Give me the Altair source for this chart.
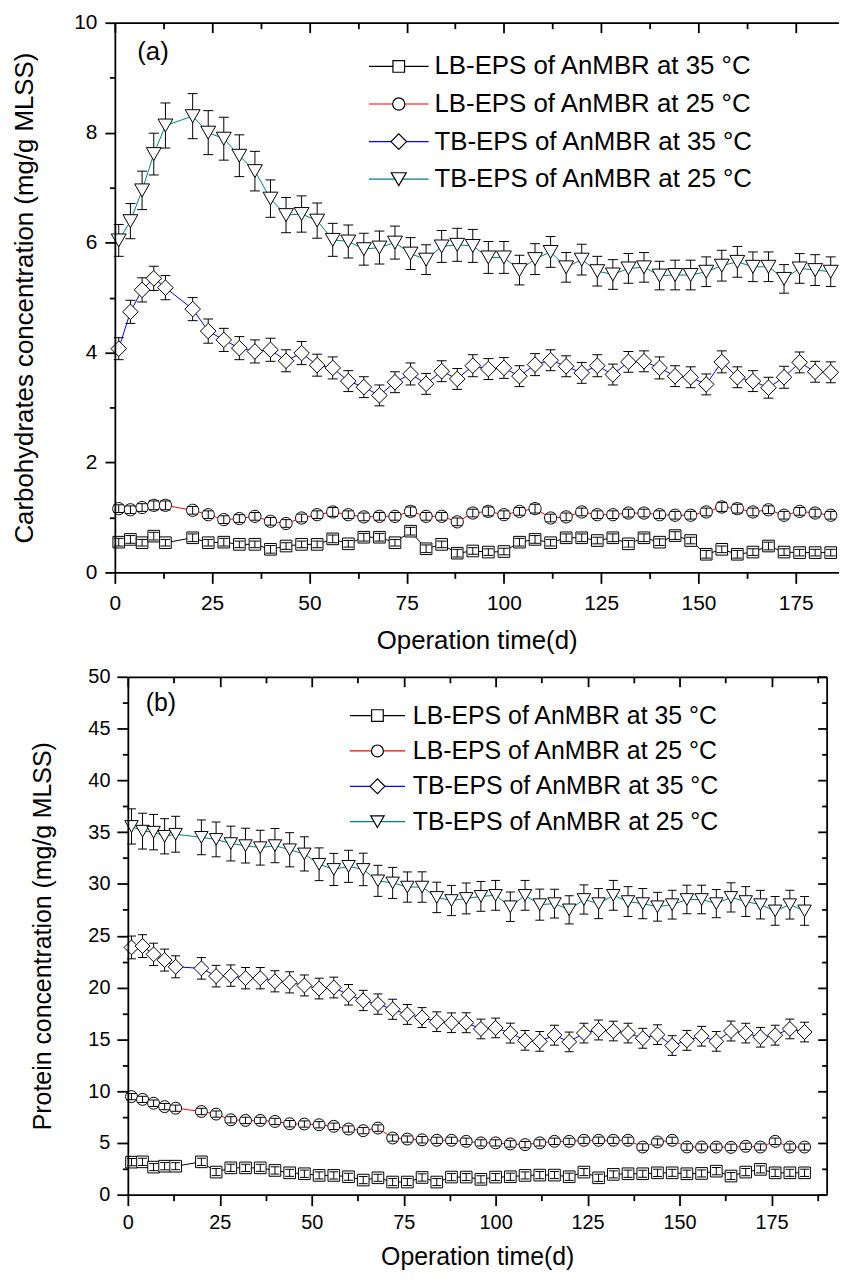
import altair as alt
import pandas as pd

FONT = "Liberation Sans, Arial, sans-serif"

days = [1, 4, 7, 10, 13, 20, 24, 28, 32, 36, 40, 44, 48, 52, 56, 60, 64, 68, 72, 76,
        80, 84, 88, 92, 96, 100, 104, 108, 112, 116, 120, 124, 128, 132, 136, 140,
        144, 148, 152, 156, 160, 164, 168, 172, 176, 180, 184]

labels = ["LB-EPS of AnMBR at 35 °C", "LB-EPS of AnMBR at 25 °C",
          "TB-EPS of AnMBR at 35 °C", "TB-EPS of AnMBR at 25 °C"]
keys = ["k1", "k2", "k3", "k4"]
line_colors = ["#000000", "#ff0000", "#0000ff", "#008080"]
marker_strokes = ["#000000", "#000000", "#000000", "#000000"]

# ---- panel (a): carbohydrates ----
a_lb35 = [0.55, 0.60, 0.54, 0.66, 0.54, 0.63, 0.54, 0.55, 0.51, 0.51, 0.42, 0.48, 0.51, 0.51, 0.61, 0.52, 0.64, 0.64, 0.54, 0.75,
          0.43, 0.51, 0.35, 0.39, 0.37, 0.38, 0.55, 0.60, 0.54, 0.63, 0.63, 0.58, 0.63, 0.52, 0.63, 0.55, 0.67, 0.58, 0.33, 0.42,
          0.33, 0.37, 0.48, 0.37, 0.36, 0.36, 0.36]
a_lb25 = [1.16, 1.14, 1.18, 1.22, 1.22, 1.13, 1.05, 0.96, 0.98, 1.02, 0.93, 0.89, 0.99, 1.05, 1.10, 1.05, 1.01, 1.02, 1.02, 1.11,
          1.02, 1.02, 0.92, 1.08, 1.11, 1.05, 1.11, 1.16, 0.99, 1.01, 1.10, 1.05, 1.05, 1.08, 1.08, 1.05, 1.04, 1.04, 1.10, 1.19,
          1.16, 1.10, 1.14, 1.04, 1.11, 1.08, 1.04]
a_tb35 = [4.07, 4.74, 5.14, 5.35, 5.18, 4.79, 4.39, 4.23, 4.08, 4.02, 4.05, 3.85, 3.99, 3.77, 3.72, 3.48, 3.37, 3.22, 3.46, 3.61,
          3.43, 3.66, 3.52, 3.76, 3.70, 3.72, 3.57, 3.78, 3.86, 3.75, 3.63, 3.76, 3.60, 3.83, 3.84, 3.72, 3.57, 3.55, 3.42, 3.83,
          3.55, 3.48, 3.36, 3.55, 3.82, 3.65, 3.64]
a_tb25 = [6.04, 6.39, 6.95, 7.61, 8.13, 8.30, 8.00, 7.89, 7.58, 7.30, 6.80, 6.50, 6.52, 6.40, 6.05, 6.02, 5.88, 5.91, 6.00, 5.80,
          5.69, 5.93, 5.96, 5.94, 5.73, 5.73, 5.50, 5.70, 5.83, 5.55, 5.69, 5.48, 5.42, 5.53, 5.55, 5.40, 5.41, 5.41, 5.47, 5.58,
          5.65, 5.56, 5.56, 5.34, 5.53, 5.50, 5.47]

a_lb35_err = [0.07, 0.07, 0.06, 0.07, 0.06, 0.07, 0.06, 0.07, 0.06, 0.06, 0.07, 0.06, 0.06, 0.06, 0.07, 0.06, 0.07, 0.07, 0.06, 0.07,
              0.07, 0.06, 0.07, 0.06, 0.06, 0.06, 0.07, 0.07, 0.06, 0.07, 0.07, 0.06, 0.07, 0.06, 0.07, 0.06, 0.07, 0.06, 0.07, 0.06,
              0.07, 0.06, 0.07, 0.06, 0.06, 0.06, 0.06]
a_lb25_err = [0.07, 0.07, 0.07, 0.08, 0.08, 0.07, 0.07, 0.07, 0.07, 0.07, 0.07, 0.07, 0.07, 0.07, 0.08, 0.07, 0.07, 0.07, 0.07, 0.08,
              0.07, 0.07, 0.07, 0.07, 0.08, 0.07, 0.07, 0.08, 0.07, 0.07, 0.07, 0.07, 0.07, 0.07, 0.07, 0.07, 0.07, 0.07, 0.07, 0.08,
              0.08, 0.07, 0.07, 0.07, 0.07, 0.07, 0.07]
a_tb35_err = [0.20, 0.21, 0.22, 0.22, 0.22, 0.21, 0.22, 0.21, 0.21, 0.21, 0.21, 0.20, 0.21, 0.20, 0.20, 0.19, 0.19, 0.19, 0.19, 0.20,
              0.19, 0.19, 0.19, 0.20, 0.19, 0.19, 0.19, 0.20, 0.19, 0.19, 0.19, 0.20, 0.19, 0.19, 0.19, 0.20, 0.19, 0.19, 0.19, 0.20,
              0.19, 0.19, 0.19, 0.20, 0.19, 0.19, 0.19]
a_tb25_err = [0.29, 0.32, 0.35, 0.38, 0.41, 0.41, 0.40, 0.39, 0.38, 0.36, 0.34, 0.32, 0.33, 0.32, 0.30, 0.30, 0.29, 0.30, 0.30, 0.29,
              0.27, 0.29, 0.30, 0.30, 0.29, 0.29, 0.27, 0.28, 0.28, 0.27, 0.28, 0.27, 0.27, 0.27, 0.27, 0.26, 0.27, 0.27, 0.27, 0.28,
              0.28, 0.27, 0.27, 0.26, 0.27, 0.28, 0.27]

# ---- panel (b): protein ----
b_lb35 = [3.14, 3.17, 2.66, 2.75, 2.75, 3.17, 2.18, 2.59, 2.59, 2.59, 2.34, 2.11, 2.02, 1.86, 1.86, 1.73, 1.41, 1.63, 1.22, 1.22,
          1.66, 1.22, 1.70, 1.70, 1.48, 1.70, 1.73, 1.86, 1.89, 1.89, 1.73, 2.18, 1.63, 1.96, 2.02, 2.02, 2.11, 2.11, 2.02, 2.05,
          2.27, 1.80, 2.18, 2.44, 2.11, 2.11, 2.11]
b_lb25 = [9.47, 9.20, 8.83, 8.50, 8.35, 8.03, 7.78, 7.23, 7.17, 7.17, 7.07, 6.85, 6.82, 6.75, 6.60, 6.34, 6.18, 6.43, 5.47, 5.37,
          5.30, 5.25, 5.25, 5.15, 5.00, 5.00, 4.90, 4.83, 5.00, 5.15, 5.15, 5.25, 5.25, 5.25, 5.25, 4.60, 5.09, 5.25, 4.60, 4.60,
          4.60, 4.57, 4.67, 4.60, 5.15, 4.60, 4.60]
b_tb35 = [23.87, 24.00, 23.20, 22.65, 22.00, 21.85, 21.10, 21.15, 20.90, 20.90, 20.60, 20.50, 20.20, 19.90, 20.00, 19.30, 18.75,
          18.40, 17.90, 17.40, 17.10, 16.70, 16.60, 16.60, 16.00, 16.10, 15.60, 14.90, 14.80, 15.40, 14.75, 15.60, 15.90, 15.80,
          15.60, 15.10, 15.45, 14.40, 14.90, 15.30, 14.80, 15.80, 15.60, 15.20, 15.40, 16.00, 15.70]
b_tb25 = [35.55, 35.10, 35.00, 34.60, 34.80, 34.50, 34.30, 33.90, 33.70, 33.50, 33.70, 33.30, 32.90, 31.90, 31.40, 31.70, 31.40,
          30.30, 30.10, 29.70, 29.70, 28.70, 28.40, 28.60, 28.80, 28.90, 27.80, 28.90, 28.00, 28.10, 27.50, 28.50, 28.10, 28.90,
          28.30, 28.10, 27.80, 28.00, 28.50, 28.50, 28.10, 28.70, 28.30, 28.00, 27.40, 28.00, 27.40]

b_lb35_err = [0.35, 0.35, 0.34, 0.35, 0.34, 0.35, 0.34, 0.35, 0.35, 0.34, 0.35, 0.34, 0.35, 0.34, 0.35, 0.34, 0.35, 0.34, 0.35, 0.34,
              0.35, 0.34, 0.35, 0.34, 0.35, 0.34, 0.35, 0.34, 0.35, 0.34, 0.35, 0.34, 0.35, 0.34, 0.35, 0.34, 0.35, 0.34, 0.35, 0.34,
              0.35, 0.34, 0.35, 0.34, 0.35, 0.34, 0.35]
b_lb25_err = [0.30, 0.30, 0.31, 0.30, 0.30, 0.31, 0.30, 0.30, 0.31, 0.30, 0.30, 0.31, 0.30, 0.30, 0.31, 0.30, 0.30, 0.31, 0.30, 0.30,
              0.31, 0.30, 0.30, 0.31, 0.30, 0.30, 0.31, 0.30, 0.30, 0.31, 0.30, 0.30, 0.31, 0.30, 0.30, 0.31, 0.30, 0.30, 0.31, 0.30,
              0.30, 0.31, 0.30, 0.30, 0.31, 0.30, 0.30]
b_tb35_err = [1.10, 1.10, 1.08, 1.06, 1.06, 1.04, 1.04, 1.03, 1.03, 1.03, 1.02, 1.02, 1.01, 1.00, 1.00, 0.99, 0.98, 0.98, 0.97, 0.96,
              0.96, 0.95, 0.95, 0.96, 0.95, 0.95, 0.96, 0.95, 0.95, 0.96, 0.95, 0.95, 0.96, 0.95, 0.95, 0.96, 0.95, 0.95, 0.96, 0.95,
              0.95, 0.96, 0.95, 0.95, 0.96, 0.95, 0.95]
b_tb25_err = [1.70, 1.73, 1.71, 1.70, 1.73, 1.68, 1.68, 1.68, 1.68, 1.68, 1.65, 1.65, 1.65, 1.58, 1.55, 1.55, 1.57, 1.50, 1.50, 1.46,
              1.47, 1.47, 1.46, 1.49, 1.44, 1.44, 1.42, 1.44, 1.50, 1.39, 1.36, 1.41, 1.45, 1.44, 1.44, 1.46, 1.39, 1.39, 1.38, 1.38,
              1.36, 1.41, 1.44, 1.38, 1.39, 1.39, 1.39]


def build_df(series_vals, series_errs):
    rows = []
    for lab, key, vals, errs in zip(labels, keys, series_vals, series_errs):
        for d, v, e in zip(days, vals, errs):
            rows.append({"day": d, "value": v, "lo": v - e, "hi": v + e,
                         "series": lab, "key": key, "lb": lab.startswith("LB")})
    return pd.DataFrame(rows)


def circle_path(r):
    return f"M{r},0A{r},{r},0,1,1,{-r},0A{r},{r},0,1,1,{r},0Z"


def shape_paths(sq, cr, tw, th):
    return [f"M{-sq},{-sq}H{sq}V{sq}H{-sq}Z",
            circle_path(cr),
            "M-1,0L0,-1L1,0L0,1Z",
            f"M0,{th}L{tw},{-th}L{-tw},{-th}Z"]


def axis(orient, values=None, tick=0, labels=False, domain=False, offset=0, title=None, fs=20, **kw):
    args = dict(orient=orient, ticks=tick > 0, tickSize=tick, labels=labels, domain=domain,
                offset=offset, title=title, grid=False, tickColor="black", tickWidth=1.8,
                domainColor="black", domainWidth=1.8, zindex=1, labelFont=FONT,
                labelFontSize=fs, labelColor="black", labelFlush=False, labelOverlap=False,
                format="d", titleFont=FONT, titleFontWeight="normal", titleColor="black")
    if values is not None:
        args["values"] = values
    args.update(kw)
    return alt.Axis(**args)


def panel(df, p):
    xs = alt.Scale(domain=[0, p["xmax"]], nice=False, zero=False)
    ys = alt.Scale(domain=[0, p["ymax"]], nice=False, zero=False)
    base = alt.Chart(df)

    def X(ax=None):
        return alt.X("day:Q", scale=xs, axis=ax)

    def Y(field="value", ax=None):
        return alt.Y(f"{field}:Q", scale=ys, axis=ax)

    legend_common = dict(orient="none", legendX=p["leg_x"], legendY=p["leg_y"], title=None,
                         symbolSize=p["S"], symbolStrokeWidth=1.2, labelFont=FONT,
                         labelFontSize=p["fs_leg"], labelColor="black", labelLimit=600,
                         rowPadding=p["leg_row"], padding=0, labelOffset=p["leg_off"])

    lines = base.mark_line(strokeWidth=1, opacity=1).encode(
        x=X(), y=Y(),
        color=alt.Color("key:N", scale=alt.Scale(domain=keys, range=line_colors),
                        legend=alt.Legend(symbolType=p["line_path"], labelOpacity=0,
                                          labelExpr="' '",
                                          symbolFillColor="transparent", **legend_common)))

    def errbars(src):
        stem = src.mark_rule(color="black", strokeWidth=1).encode(x=X(), y=Y("lo"), y2="hi:Q")
        lo = src.mark_tick(orient="horizontal", size=p["cap"], thickness=1, color="black", opacity=1).encode(
            x=X(), y=Y("lo"))
        hi = src.mark_tick(orient="horizontal", size=p["cap"], thickness=1, color="black", opacity=1).encode(
            x=X(), y=Y("hi"))
        return [stem, lo, hi]

    shape_legend = dict(symbolFillColor="white", symbolOpacity=1, **legend_common)
    points = base.mark_point(filled=False, fill="white", fillOpacity=1,
                             strokeWidth=1, opacity=1, size=p["S"]).encode(
        x=X(), y=Y(),
        shape=alt.Shape("series:N", scale=alt.Scale(domain=labels, range=p["paths"]),
                        legend=alt.Legend(**shape_legend)),
        stroke=alt.Stroke("series:N", scale=alt.Scale(domain=labels, range=marker_strokes),
                          legend=alt.Legend(**shape_legend)))

    lb_src = base.transform_filter("datum.lb")

    ghost = base.mark_point(opacity=0, size=1)
    ax_main = ghost.encode(
        x=X(axis("bottom", p["xmaj"], 11, labels=True, domain=True, title="Operation time(d)",
                 fs=p["fs_tick"], labelPadding=p["xlp"], titleFontSize=p["fs_xtitle"],
                 titlePadding=p["xtp"])),
        y=Y(ax=axis("left", p["ymaj"], p["ytick"], labels=True, domain=True,
                    title=p["ytitle"], fs=p["fs_tick"], labelPadding=p["ylp"],
                    titleFontSize=p["fs_title"], titlePadding=p["ytp"])))
    ax_minor = ghost.encode(
        x=X(axis("bottom", p["xmin"], 6)),
        y=Y(ax=axis("left", p["ymin"], 5.5)))
    ax_top_maj = ghost.encode(
        x=X(axis("top", p["xmaj"], 10, offset=-10)),
        y=Y(ax=axis("right", p["ymaj"], 9, offset=-9) if p["right"] else None))
    ax_top_min = ghost.encode(
        x=X(axis("top", p["xmin"], 6, offset=-6)),
        y=Y(ax=axis("right", p["ymin"], 5, offset=-5) if p["right"] else None))
    ax_frame = ghost.encode(
        x=X(axis("top", p["xmaj"], 0, domain=True)),
        y=Y(ax=axis("right", p["ymaj"], 0, domain=True) if p["right"] else None))

    tag = alt.Chart(pd.DataFrame({"t": [p["tag"]]})).mark_text(
        align="left", baseline="middle", font=FONT, fontSize=p["fs_leg"], color="black").encode(
        text="t:N", x=alt.value(p["tag_x"]), y=alt.value(p["tag_y"]))

    layers = [lines] + errbars(base) + [points] + errbars(lb_src) + [
        ax_main, ax_minor, ax_top_maj, ax_top_min, ax_frame, tag]
    return alt.layer(*layers).resolve_axis(x="independent", y="independent").properties(
        width=p["width"], height=p["height"])


df_a = build_df([a_lb35, a_lb25, a_tb35, a_tb25], [a_lb35_err, a_lb25_err, a_tb35_err, a_tb25_err])
df_b = build_df([b_lb35, b_lb25, b_tb35, b_tb25], [b_lb35_err, b_lb25_err, b_tb35_err, b_tb25_err])

params_a = dict(
    xmax=186, ymax=10, width=728, height=553,
    xmaj=[0, 25, 50, 75, 100, 125, 150, 175],
    xmin=[12.5, 37.5, 62.5, 87.5, 112.5, 137.5, 162.5],
    ymaj=[0, 2, 4, 6, 8, 10], ymin=[1, 3, 5, 7, 9], ytick=10,
    ytitle="Carbohydrates concentration (mg/g MLSS)",
    fs_tick=21, fs_title=26, fs_xtitle=26, fs_leg=26, xlp=9, xtp=15, ylp=8, ytp=36,
    S=246, paths=shape_paths(0.745, 0.78, 0.955, 0.827), cap=10,
    line_path="M-3.83,0H3.83",
    leg_x=272.6, leg_y=31, leg_row=11.8, leg_off=22.9,
    tag="(a)", tag_x=22.5, tag_y=30, right=False)

params_b = dict(
    xmax=190, ymax=50, width=703, height=521,
    xmaj=[0, 25, 50, 75, 100, 125, 150, 175],
    xmin=[12.5, 37.5, 62.5, 87.5, 112.5, 137.5, 162.5, 187.5],
    ymaj=[0, 5, 10, 15, 20, 25, 30, 35, 40, 45, 50],
    ymin=[2.5, 7.5, 12.5, 17.5, 22.5, 27.5, 32.5, 37.5, 42.5, 47.5], ytick=11,
    ytitle="Protein concentration (mg/g MLSS)",
    fs_tick=20, fs_title=25, fs_xtitle=25, fs_leg=25, xlp=7, xtp=12, ylp=7, ytp=33,
    S=225, paths=shape_paths(0.78, 0.8, 0.9, 0.78), cap=9,
    line_path="M-3.7,0H3.7",
    leg_x=238.6, leg_y=26.5, leg_row=9.6, leg_off=23.1,
    tag="(b)", tag_x=18, tag_y=26, right=True)

chart_a = panel(df_a, params_a)
chart_b = panel(df_b, params_b)

chart = alt.vconcat(chart_a, chart_b, spacing=13, center=True).resolve_scale(
    color="independent", shape="independent", stroke="independent").properties(
    padding={"left": 4, "top": 0, "right": 0, "bottom": 0}).configure(
    font=FONT).configure_view(stroke=None)

chart.save("out.html", embed_options={"renderer": "svg", "actions": False})
